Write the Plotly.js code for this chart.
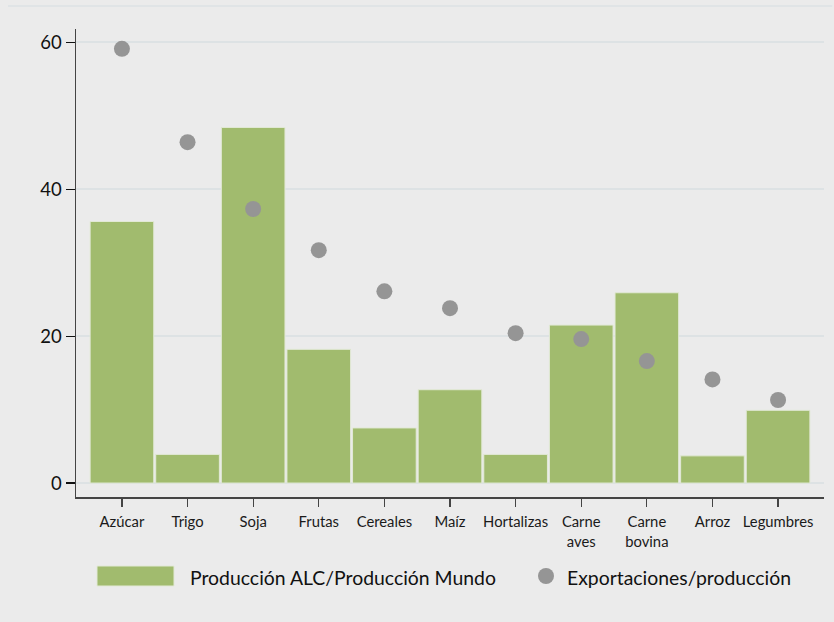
<!DOCTYPE html>
<html>
<head>
<meta charset="utf-8">
<script src="https://cdn.plot.ly/plotly-3.0.1.min.js"></script>
<style>html,body{margin:0;padding:0;background:#ebebeb;}#chart{width:834px;height:622px;}</style>
</head>
<body>
<div id="chart"></div>
<script>
const categories = ["Azúcar", "Trigo", "Soja", "Frutas", "Cereales", "Maíz", "Hortalizas", "Carne<br>aves", "Carne<br>bovina", "Arroz", "Legumbres"];
const produccionALC = [35.6, 3.9, 48.4, 18.2, 7.5, 12.7, 3.9, 21.5, 25.9, 3.7, 9.9];
const exportaciones = [59.1, 46.4, 37.3, 31.7, 26.1, 23.8, 20.4, 19.6, 16.6, 14.1, 11.3];
const yTicks = [0, 20, 40, 60];
const seriesNames = ["Producción ALC/Producción Mundo", "Exportaciones/producción"];

const green = "#a1bb6e";
const grey = "#959595";
const font = "Lato, 'Open Sans', sans-serif";

const traces = [
  {
    type: "bar",
    x: categories,
    y: produccionALC,
    name: seriesNames[0],
    width: 0.97,
    marker: {color: green, line: {color: "#e2e9d6", width: 1}},
    hoverinfo: "x+y"
  },
  {
    type: "scatter",
    mode: "markers",
    x: categories,
    y: exportaciones,
    name: seriesNames[1],
    marker: {color: grey, size: 16},
    hoverinfo: "x+y"
  }
];

const layout = {
  width: 834,
  height: 622,
  paper_bgcolor: "#ebebeb",
  plot_bgcolor: "#ebebeb",
  showlegend: false,
  margin: {l: 76, r: 10, t: 29, b: 125},
  font: {family: font, color: "#1a1a1a"},
  xaxis: {
    range: [-0.7, 10.7],
    showline: true,
    linecolor: "#444",
    linewidth: 1.5,
    ticks: "outside",
    ticklen: 8,
    tickcolor: "#444",
    tickwidth: 1.2,
    ticklabelstandoff: 3,
    showgrid: false,
    zeroline: false,
    tickfont: {size: 14.8, family: font, color: "#1a1a1a"},
    fixedrange: true
  },
  yaxis: {
    range: [-1.9, 61.8],
    tickvals: yTicks,
    ticktext: yTicks.map(String),
    showline: true,
    linecolor: "#444",
    linewidth: 1.5,
    ticks: "outside",
    ticklen: 9,
    tickcolor: "#111",
    tickwidth: 1.2,
    showgrid: true,
    gridcolor: "#dde2e4",
    gridwidth: 1.5,
    zeroline: false,
    tickfont: {size: 18.5, family: font, color: "#111"},
    fixedrange: true
  },
  shapes: [
    {type: "line", xref: "paper", yref: "paper", x0: -0.091, x1: 1.011, y0: 1.049, y1: 1.049,
     line: {color: "#dde2e4", width: 1.5}},
    {type: "rect", xref: "paper", yref: "paper", x0: (97-76)/748, x1: (174-76)/748,
     y0: (497-586)/468, y1: (497-566)/468, fillcolor: green, line: {color: "#e2e9d6", width: 1}},
    {type: "circle", xref: "paper", yref: "paper", x0: (538-76)/748, x1: (554-76)/748,
     y0: (497-584)/468, y1: (497-568)/468, fillcolor: grey, line: {width: 0}}
  ],
  annotations: [
    {xref: "paper", yref: "paper", x: (188-76)/748, y: (497-577)/468, xanchor: "left", yanchor: "middle",
     text: seriesNames[0], showarrow: false, font: {size: 19.4, family: font, color: "#111"}},
    {xref: "paper", yref: "paper", x: (565-76)/748, y: (497-577)/468, xanchor: "left", yanchor: "middle",
     text: seriesNames[1], showarrow: false, font: {size: 19.4, family: font, color: "#111"}}
  ]
};

Plotly.newPlot("chart", traces, layout, {displayModeBar: false, staticPlot: true});
</script>
</body>
</html>
